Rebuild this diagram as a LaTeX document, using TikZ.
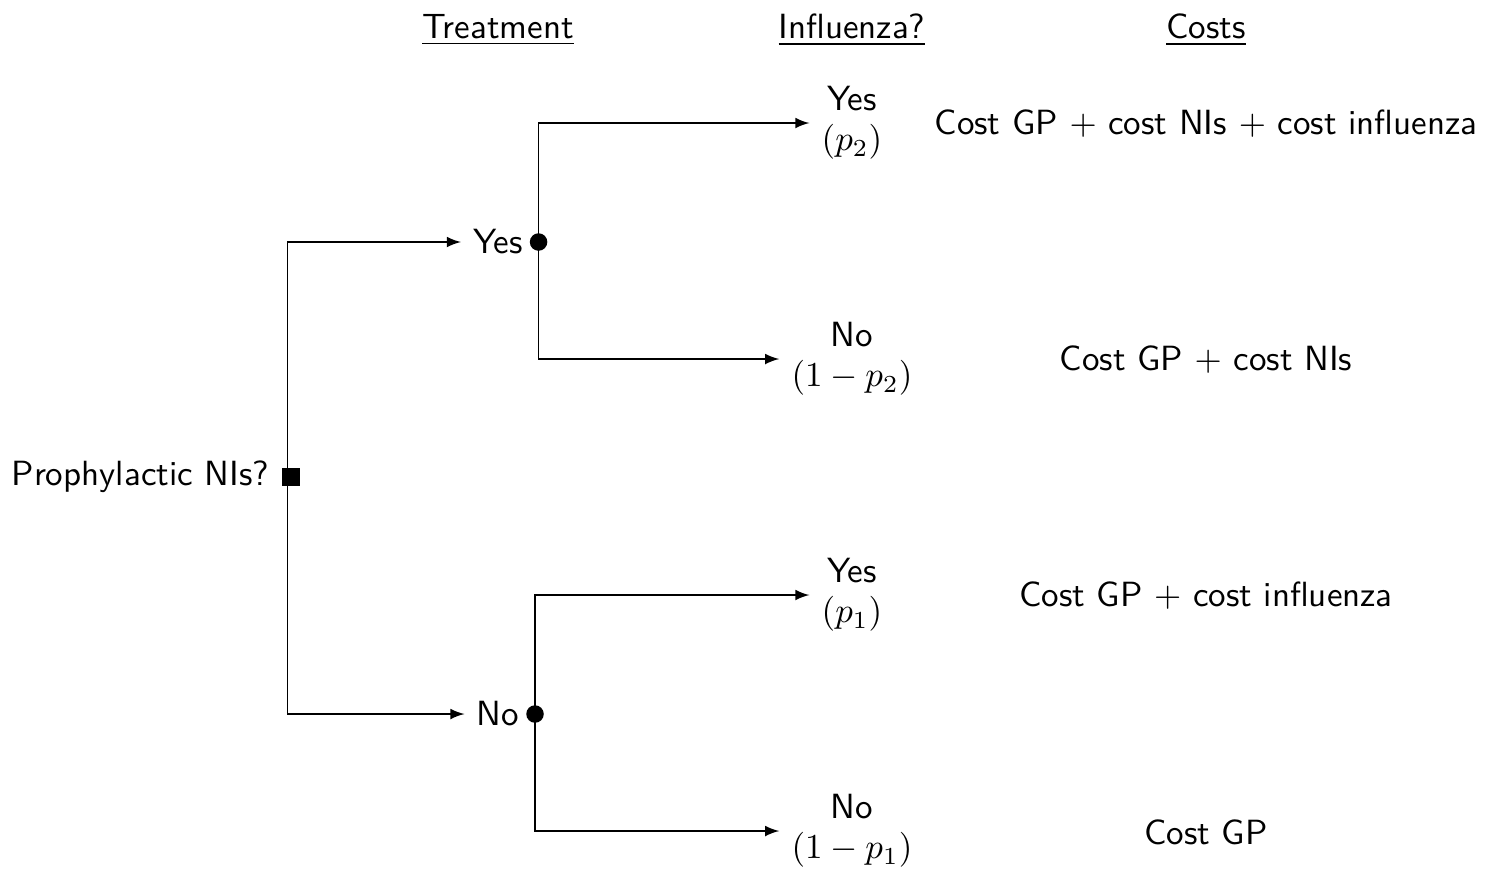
\documentclass[tikz,border=0pt]{standalone}
\usepackage{tikz}
\usetikzlibrary{shapes,arrows,positioning}

\begin{document}
\begin{tikzpicture}[x=0.2857pt, y=-0.2857pt, font=\sffamily]

% Define styles
\tikzstyle{decision} = [rectangle, fill=black, minimum size=5pt, inner sep=0pt]
\tikzstyle{chance} = [circle, fill=black, minimum size=5pt, inner sep=0pt]
\tikzstyle{outcome} = [align=center]
\tikzstyle{header} = [anchor=center]
\tikzstyle{arrow} = [->,>=latex]

\useasboundingbox (0,0) rectangle (1494,881);

% Headers
\node [header] (hdtreat) at (498,30) {\underline{Treatment}};
\node [header] (hdflu) at (852,30) {\underline{Influenza?}};
\node [header] (hdcost) at (1206,30) {\underline{Costs}};

% Nodes
\node [decision] (root) at (291,477) {};
\node [left=0pt of root] (rootname) {Prophylactic NIs?};

\node (treatyes) at (498,242) {Yes};
\node (treatno) at (498,714) {No};
\node [chance] (chyes) at ([xshift=1pt]treatyes.east) {};
\node [chance] (chno) at ([xshift=1pt]treatno.east) {};

\node [outcome] (fluyes2) at (852,123) {Yes\\[-0.5pt]$(p_2)$};
\node [outcome] (fluno2) at (852,359) {No\\[-0.5pt]$(1-p_2)$};
\node [outcome] (fluyes1) at (852,595) {Yes\\[-0.5pt]$(p_1)$};
\node [outcome] (fluno1) at (852,831) {No\\[-0.5pt]$(1-p_1)$};

% Costs
\node (cost1) at (1206,124) {Cost GP $+$ cost NIs $+$ cost influenza};
\node (cost2) at (1206,360) {Cost GP $+$ cost NIs};
\node (cost3) at (1206,596) {Cost GP $+$ cost influenza};
\node (cost4) at (1206,832) {Cost GP};

% Arrows
\draw [arrow] ([xshift=-1pt]root.center) |- (treatyes.west);
\draw [arrow] ([xshift=-1pt]root.center) |- (treatno.west);

\draw [arrow] (chyes.center) |- (fluyes2.west);
\draw [arrow] (chyes.center) |- (fluno2.west);
\draw [arrow] (chno.center) |- (fluyes1.west);
\draw [arrow] (chno.center) |- (fluno1.west);

\end{tikzpicture}
\end{document}
